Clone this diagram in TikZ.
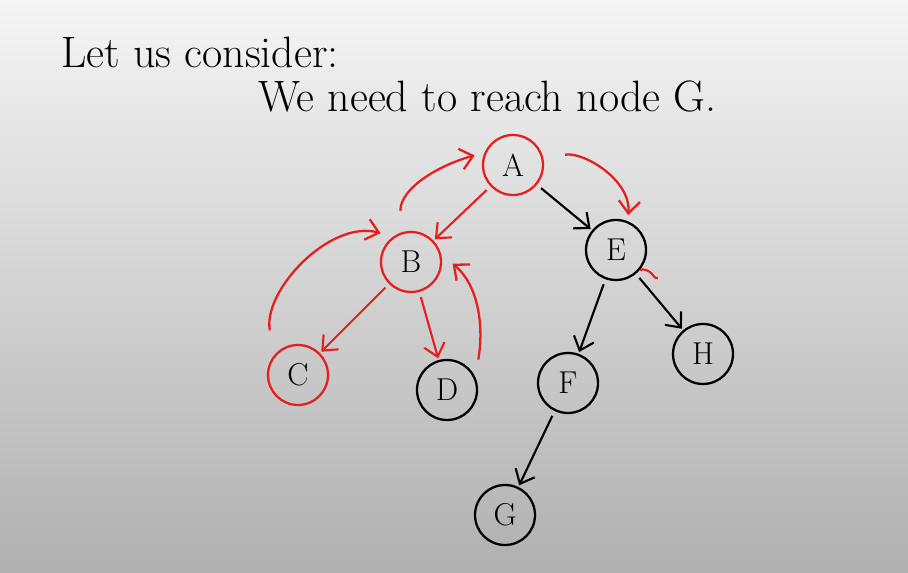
\documentclass[tikz,border=0pt]{standalone}
\usepackage{tikz}
\usetikzlibrary{arrows.meta}
\definecolor{penred}{RGB}{228,32,30}

\begin{document}
\begin{tikzpicture}[x=0.02cm, y=-0.02cm,
            vtx/.style={circle, draw=black, line width=1.3pt, minimum size=1.2cm, inner sep=0pt, font=\fontsize{18}{20}\selectfont},
            seen/.style={vtx, draw=penred},
            edge/.style={line width=1.2pt, shorten <=3pt, shorten >=1pt, -{Straight Barb[length=7pt, width=12pt]}},
            trace/.style={edge, penred},
            loop/.style={line width=1.3pt, penred, -{Straight Barb[length=7pt, width=12pt]}},
            words/.style={anchor=west, font=\fontsize{25}{29}\selectfont}]
            % board
            \shade[top color=gray!8, middle color=gray!16, bottom color=gray!62] (0,0) rectangle (908,573);
            \useasboundingbox (0,0) rectangle (908,573);
            \node[words] (t1) at (55,52) {Let us consider:};
            \node[words] (t2) at (252,97) {We need to reach node G.};
            % tree
            \node[seen] (A) at (513,165) {A};
            \node[seen] (B) at (411,262) {B};
            \node[seen] (C) at (298,375) {C};
            \node[vtx] (D) at (447,390) {D};
            \node[vtx] (E) at (616,250) {E};
            \node[vtx] (F) at (568,383) {F};
            \node[vtx] (H) at (703,354) {H};
            \node[vtx] (G) at (505,515) {G};
            \draw[trace] (A) -- (B);
            \draw[trace] (B) -- (C);
            \draw[trace] (B) -- (D);
            \draw[edge] (A) -- (E);
            \draw[edge] (E) -- (F);
            \draw[edge] (E) -- (H);
            \draw[edge] (F) -- (G);
            % backtracking
            \draw[loop, shorten <=0.44cm, shorten >=0.2cm] (B.110) to[out=90, in=195] (A.157);
            \draw[loop, shorten <=0.5cm, shorten >=0.26cm] (C.140) to[out=100, in=165] (B.125);
            \draw[loop, shorten <=0.35cm, shorten >=0.3cm] (D.25) to[out=80, in=-40] (B.15);
            \draw[loop, shorten <=0.44cm, shorten >=0.12cm] (A.12) to[out=10, in=85] (E.68);
            \draw[penred, line width=1.2pt] (E.-40) to[out=20, in=150] ++(10,2) to[out=-30, in=200] ++(8,6);
        \end{tikzpicture}
\end{document}
